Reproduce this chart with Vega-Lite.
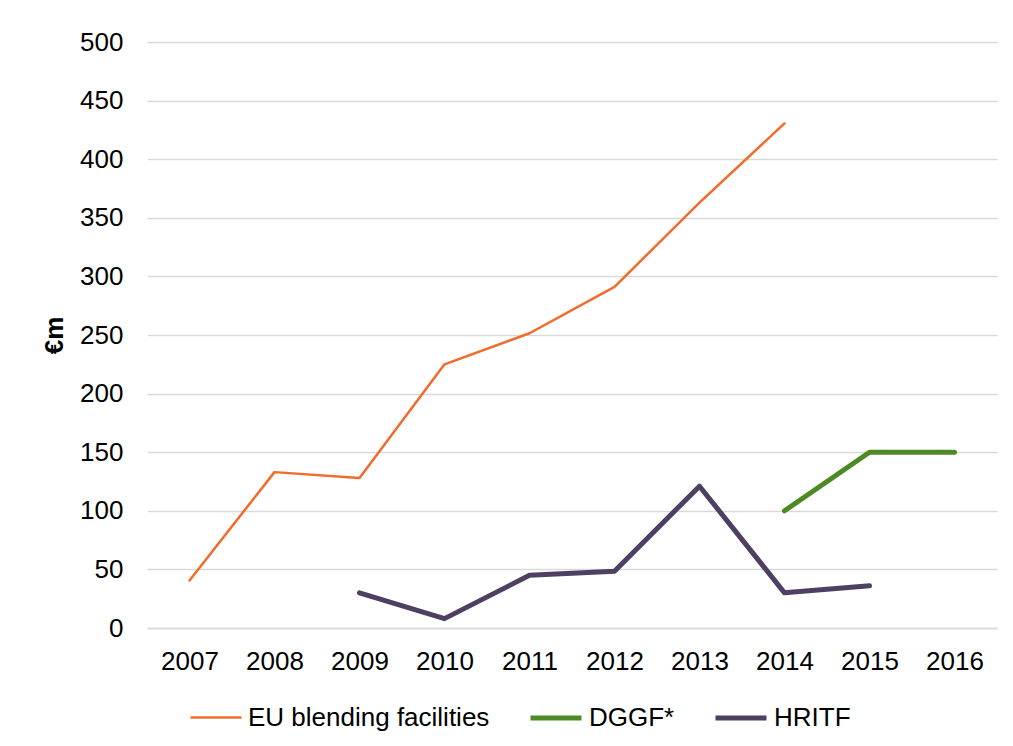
{
  "$schema": "https://vega.github.io/schema/vega-lite/v6.json",
  "width": 850,
  "height": 586,
  "autosize": {"type": "none"},
  "padding": {"left": 147, "top": 42, "right": 16, "bottom": 118},
  "background": "white",
  "config": {
    "view": {"stroke": null},
    "font": "Liberation Sans"
  },
  "data": {
    "values": [
      {"year": "2007", "series": "EU blending facilities", "value": 40.5},
      {"year": "2008", "series": "EU blending facilities", "value": 133},
      {"year": "2009", "series": "EU blending facilities", "value": 128},
      {"year": "2010", "series": "EU blending facilities", "value": 225},
      {"year": "2011", "series": "EU blending facilities", "value": 251.5},
      {"year": "2012", "series": "EU blending facilities", "value": 291},
      {"year": "2013", "series": "EU blending facilities", "value": 363},
      {"year": "2014", "series": "EU blending facilities", "value": 430.5},
      {"year": "2014", "series": "DGGF*", "value": 100},
      {"year": "2015", "series": "DGGF*", "value": 150},
      {"year": "2016", "series": "DGGF*", "value": 150},
      {"year": "2009", "series": "HRITF", "value": 30},
      {"year": "2010", "series": "HRITF", "value": 8},
      {"year": "2011", "series": "HRITF", "value": 45},
      {"year": "2012", "series": "HRITF", "value": 48.5},
      {"year": "2013", "series": "HRITF", "value": 121},
      {"year": "2014", "series": "HRITF", "value": 30},
      {"year": "2015", "series": "HRITF", "value": 36}
    ]
  },
  "mark": {"type": "line", "strokeCap": "round", "strokeJoin": "round"},
  "encoding": {
    "x": {
      "field": "year",
      "type": "ordinal",
      "scale": {"type": "point", "padding": 0.5, "domain": ["2007","2008","2009","2010","2011","2012","2013","2014","2015","2016"]},
      "axis": {
        "title": null,
        "labelAngle": 0,
        "labelFontSize": 26,
        "labelColor": "#000000",
        "labelPadding": 20,
        "ticks": false,
        "tickSize": 0,
        "domain": true,
        "domainColor": "#d9d9d9",
        "domainWidth": 1.5,
        "grid": false
      }
    },
    "y": {
      "field": "value",
      "type": "quantitative",
      "scale": {"domain": [0, 500], "nice": false},
      "axis": {
        "title": "€m",
        "titleFontSize": 26,
        "titleFontWeight": "bold",
        "titleColor": "#000000",
        "titlePadding": 12,
        "values": [0,50,100,150,200,250,300,350,400,450,500],
        "labelFontSize": 26,
        "labelColor": "#000000",
        "labelPadding": 24,
        "ticks": false,
        "tickSize": 0,
        "domain": false,
        "grid": true,
        "gridColor": "#d9d9d9",
        "gridWidth": 1.5
      }
    },
    "color": {
      "field": "series",
      "type": "nominal",
      "scale": {
        "domain": ["EU blending facilities", "DGGF*", "HRITF"],
        "range": ["#f26b2a", "#4d8a23", "#4f3f63"]
      },
      "legend": {
        "title": null,
        "orient": "none",
        "direction": "horizontal",
        "legendX": 42,
        "legendY": 648,
        "symbolType": "stroke",
        "symbolSize": 2600,
        "labelFontSize": 26,
        "labelColor": "#000000",
        "labelOffset": 5,
        "columnPadding": 30,
        "labelLimit": 400
      }
    },
    "strokeWidth": {
      "field": "series",
      "type": "nominal",
      "scale": {
        "type": "ordinal",
        "domain": ["EU blending facilities", "DGGF*", "HRITF"],
        "range": [2.5, 5, 5]
      },
      "legend": {
        "title": null,
        "orient": "none",
        "direction": "horizontal",
        "legendX": 42,
        "legendY": 648,
        "symbolType": "stroke",
        "symbolSize": 2600,
        "labelFontSize": 26,
        "labelColor": "#000000",
        "labelOffset": 5,
        "columnPadding": 30,
        "labelLimit": 400
      }
    }
  }
}
